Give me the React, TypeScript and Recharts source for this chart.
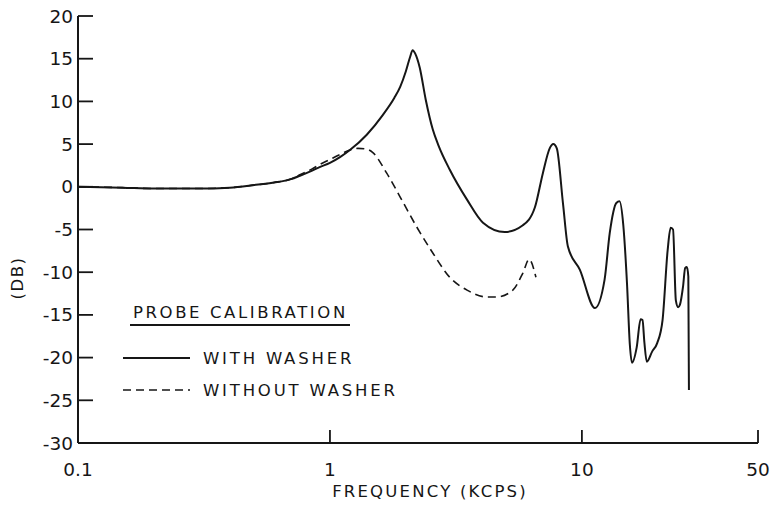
import { LineChart, Line, XAxis, YAxis } from 'recharts';

// probe response with washer (kc/s, dB)
const freqWith = [
  0.1, 0.15, 0.2, 0.3, 0.4, 0.5, 0.6, 0.7, 0.76, 0.85, 0.91, 1.0, 1.1, 1.2, 1.4, 1.62, 1.8, 1.9,
  2.0, 2.08, 2.13, 2.18, 2.27, 2.4, 2.56, 2.7, 2.99, 3.5, 4.05, 4.94, 5.83, 6.51, 7.0, 7.45, 7.7, 7.95,
  8.41, 8.8, 9.81, 11.27, 12.3, 12.9, 13.7, 14.1, 14.6, 15.1, 15.5, 15.8, 16.5, 17.1, 17.4,
  17.7, 18.1, 19.0, 19.9, 20.9, 21.9, 22.5, 23.0, 23.6, 24.1, 24.5, 25.2, 25.7, 26.1, 26.45, 26.6,
];
const dbWith = [
  0, -0.1, -0.2, -0.2, -0.1, 0.2, 0.5, 0.9, 1.3, 1.9, 2.3, 2.8, 3.5, 4.3, 6.1, 8.4, 10.4, 11.7,
  13.5, 15.2, 16.0, 15.6, 14.0, 10.2, 6.7, 4.8, 2.0, -1.5, -4.2, -5.3, -4.5, -2.4, 1.6, 4.5, 5.0, 4.5,
  -1.9, -7.0, -9.7, -14.2, -10.9, -5.4, -1.9, -1.7, -4.5, -11.3, -18.5, -20.6, -18.8, -15.5, -15.6,
  -18.2, -20.5, -19.3, -18.3, -15.6, -7.4, -4.8, -5.0, -13.3, -14.1, -13.8, -11.7, -9.5, -9.4, -10.5, -23.8,
];

// probe response without washer
const freqWithout = [
  0.1, 0.15, 0.2, 0.3, 0.4, 0.5, 0.6, 0.7, 0.76, 0.85, 0.91, 1.0, 1.1, 1.2, 1.29, 1.4, 1.48,
  1.68, 1.9, 2.21, 2.56, 2.99, 3.5, 4.2, 4.6, 5.32, 5.83, 6.17, 6.57,
];
const dbWithout = [
  0, -0.1, -0.2, -0.2, -0.1, 0.2, 0.5, 0.9, 1.4, 2.1, 2.6, 3.2, 3.8, 4.3, 4.5, 4.4, 4.0,
  1.6, -1.2, -4.7, -7.75, -10.6, -12.1, -12.9, -12.9, -12.1, -10.1, -8.5, -10.6,
];

const xTicks = [0.1, 1, 10, 50];
const yTicks = [20, 15, 10, 5, 0, -5, -10, -15, -20, -25, -30];

const withWasher = freqWith.map((f, i) => ({ f, db: dbWith[i] }));
const withoutWasher = freqWithout.map((f, i) => ({ f, db: dbWithout[i] }));

const INK = '#161616';
const FONT = '"DejaVu Sans", sans-serif';
const X_GAP = 20;
const Y_GAP = 4;

// ticks in the original point into the plot, so draw line + label together
const YTick = (props: any) => {
  const { x, y, payload } = props;
  const ax = x + Y_GAP;
  return (
    <g>
      <line x1={ax} x2={ax + 15} y1={y} y2={y} stroke={INK} strokeWidth={1.8} />
      <text x={x - 1} y={y} dy="0.355em" textAnchor="end" fill={INK} fontSize={18.5} fontFamily={FONT}>
        {payload.value}
      </text>
    </g>
  );
};

const XTick = (props: any) => {
  const { x, y, payload } = props;
  const ay = y - X_GAP;
  return (
    <g>
      {payload.value !== 0.1 && (
        <line x1={x} x2={x} y1={ay} y2={ay - 13} stroke={INK} strokeWidth={1.8} />
      )}
      <text x={x} y={y} dy="0.71em" textAnchor="middle" fill={INK} fontSize={18.5} fontFamily={FONT}>
        {String(payload.value)}
      </text>
    </g>
  );
};

export default function App() {
  return (
    <div style={{ position: 'relative', width: 776, height: 514, background: '#fff' }}>
      <style>{'body{margin:0}'}</style>
      <LineChart width={776} height={514} margin={{ top: 16, right: 18, left: 0, bottom: 41 }}>
        <XAxis
          dataKey="f"
          type="number"
          scale="log"
          domain={[0.1, 50]}
          allowDataOverflow
          ticks={xTicks}
          interval={0}
          height={30}
          axisLine={{ stroke: INK, strokeWidth: 2 }}
          tickLine={false}
          tickSize={0}
          tickMargin={X_GAP}
          tick={(p: any) => <XTick {...p} />}
          label={{
            value: 'FREQUENCY (KCPS)',
            position: 'bottom',
            offset: 12,
            dx: 12,
            fill: INK,
            fontSize: 16.5,
            fontFamily: FONT,
            letterSpacing: 2.2,
          }}
        />
        <YAxis
          type="number"
          domain={[-30, 20]}
          ticks={yTicks}
          interval={0}
          width={78}
          axisLine={{ stroke: INK, strokeWidth: 2 }}
          tickLine={false}
          tickSize={0}
          tickMargin={Y_GAP}
          tick={(p: any) => <YTick {...p} />}
        />
        <Line
          data={withWasher}
          dataKey="db"
          type="monotone"
          stroke={INK}
          strokeWidth={2}
          dot={false}
          isAnimationActive={false}
        />
        <Line
          data={withoutWasher}
          dataKey="db"
          type="monotone"
          stroke={INK}
          strokeWidth={1.6}
          strokeDasharray="8 5"
          dot={false}
          isAnimationActive={false}
        />
      </LineChart>

      {/* axis title and hand-lettered legend */}
      <svg
        width={776}
        height={514}
        style={{ position: 'absolute', left: 0, top: 0, pointerEvents: 'none' }}
        fontFamily={FONT}
        fill={INK}
      >
        <text
          transform="translate(17,278) rotate(-90)"
          textAnchor="middle"
          dominantBaseline="central"
          fontSize={16.5}
          letterSpacing={1.5}
        >
          (DB)
        </text>
        <text x={133} y={318} fontSize={16.5} letterSpacing={2.6}>PROBE CALIBRATION</text>
        <line x1={130} x2={350} y1={325} y2={325} stroke={INK} strokeWidth={2} />
        <line x1={123} x2={190} y1={358} y2={358} stroke={INK} strokeWidth={2} />
        <text x={203} y={364} fontSize={16.5} letterSpacing={2.8}>WITH WASHER</text>
        <line x1={123} x2={190} y1={390} y2={390} stroke={INK} strokeWidth={1.6} strokeDasharray="8 5" />
        <text x={203} y={396} fontSize={16.5} letterSpacing={2.8}>WITHOUT WASHER</text>
      </svg>
    </div>
  );
}
